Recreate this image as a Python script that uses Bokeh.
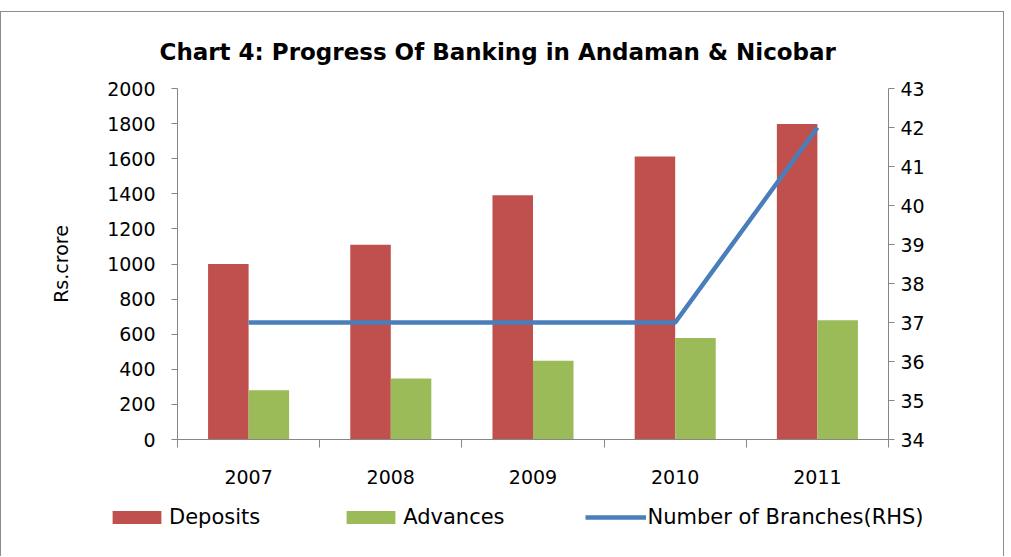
from bokeh.plotting import figure
from bokeh.models import (Range1d, LinearAxis, FixedTicker, SingleIntervalTicker,
                          Legend, LegendItem, ColumnDataSource)
from bokeh.transform import dodge
from bokeh.embed import file_html
from bokeh.resources import INLINE

years = ["2007", "2008", "2009", "2010", "2011"]
deposits = [1000, 1110, 1392, 1613, 1798]
advances = [281, 347, 449, 578, 680]
branches = [37, 37, 37, 37, 42]
series_names = ["Deposits", "Advances", "Number of Branches(RHS)"]

title_text = "Chart 4: Progress Of Banking in Andaman & Nicobar"
y_label = "Rs.crore"
FONT = "DejaVu Sans"
AX = "#868686"
BORDER = "1px solid #8c8c8c"
C_DEP, C_ADV, C_BR = "#C0504D", "#9BBB59", "#4A7EBB"

idx = list(range(1, len(years) + 1))
src = ColumnDataSource(dict(x=idx, dep=deposits, adv=advances, br=branches))
bw = 0.285

p = figure(width=1004, height=483, output_backend="svg", toolbar_location=None,
           x_range=Range1d(0.5, len(years) + 0.5), y_range=Range1d(0, 2000),
           min_border_left=176, min_border_right=117, min_border_top=76,
           min_border_bottom=56)
p.styles = {"border-left": BORDER, "border-right": BORDER, "border-top": BORDER,
            "margin-top": "11px"}
p.extra_y_ranges = {"rhs": Range1d(34, 43)}
p.outline_line_color = None
p.xgrid.visible = False
p.ygrid.visible = False

p.title.text = title_text
p.title.align = "left"
p.title.offset = -18
p.title.standoff = 48
p.title.text_font = FONT
p.title.text_font_size = "23px"
p.title.text_font_style = "bold"
p.title.text_color = "black"

p.vbar(x=dodge("x", -bw / 2), top="dep", width=bw, source=src,
       fill_color=C_DEP, line_color=None)
p.vbar(x=dodge("x", bw / 2), top="adv", width=bw, source=src,
       fill_color=C_ADV, line_color=None)
p.line(x="x", y="br", source=src, y_range_name="rhs", line_color=C_BR,
       line_width=4.5)

# axes
xa = p.xaxis[0]
xa.ticker = FixedTicker(ticks=idx, minor_ticks=[i - 0.5 for i in idx] + [len(idx) + 0.5])
xa.major_label_overrides = {i: y for i, y in zip(idx, years)}
xa.major_tick_out = 0
xa.major_tick_in = 0
xa.minor_tick_out = 8
xa.minor_tick_in = 0
xa.minor_tick_line_color = AX
xa.axis_line_color = AX
xa.major_label_standoff = 22

ya = p.yaxis[0]
ya.ticker = SingleIntervalTicker(interval=200)
ya.minor_tick_line_color = None
ya.major_tick_in = 0
ya.major_tick_out = 6
ya.axis_line_color = AX
ya.major_tick_line_color = AX
ya.major_label_standoff = 16
ya.axis_label = y_label
ya.axis_label_text_font = FONT
ya.axis_label_text_font_size = "19px"
ya.axis_label_text_font_style = "normal"
ya.axis_label_text_color = "black"
ya.axis_label_standoff = 32

ra = LinearAxis(y_range_name="rhs", ticker=SingleIntervalTicker(interval=1))
ra.minor_tick_line_color = None
ra.major_tick_in = 0
ra.major_tick_out = 6
ra.axis_line_color = AX
ra.major_tick_line_color = AX
ra.major_label_standoff = 6
p.add_layout(ra, "right")

for a in (xa, ya, ra):
    a.major_label_text_font = FONT
    a.major_label_text_font_size = "19px"
    a.major_label_text_color = "black"

# legend strip: a separate root so that its frame spans the full width
# (the same series are drawn there, but entirely outside its visible ranges)
p2 = figure(width=1004, height=62, output_backend="svg", toolbar_location=None,
            x_range=Range1d(-20, -19), y_range=Range1d(-20, -19),
            min_border_left=0, min_border_right=0, min_border_top=0, min_border_bottom=0)
p2.styles = {"border-left": BORDER, "border-right": BORDER}
p2.axis.visible = False
p2.xgrid.visible = False
p2.ygrid.visible = False
p2.outline_line_color = None
l_dep = p2.vbar(x="x", top="dep", width=bw, source=src, fill_color=C_DEP, line_color=None)
l_adv = p2.vbar(x="x", top="adv", width=bw, source=src, fill_color=C_ADV, line_color=None)
l_br = p2.line(x="x", y="br", source=src, line_color=C_BR, line_width=4.5)

legend = Legend(items=[LegendItem(label=series_names[0], renderers=[l_dep]),
                       LegendItem(label=series_names[1], renderers=[l_adv]),
                       LegendItem(label=series_names[2], renderers=[l_br])],
                orientation="horizontal", location=(105, 27))
legend.padding = 0
legend.margin = 0
legend.spacing = 80
legend.border_line_color = None
legend.background_fill_alpha = 0
legend.glyph_width = 61
legend.glyph_height = 16
legend.label_standoff = 2
legend.label_text_font = FONT
legend.label_text_font_size = "21px"
legend.label_text_color = "black"
legend.label_height = 22
p2.add_layout(legend, "center")

open("out.html", "w").write(file_html([p, p2], INLINE))
